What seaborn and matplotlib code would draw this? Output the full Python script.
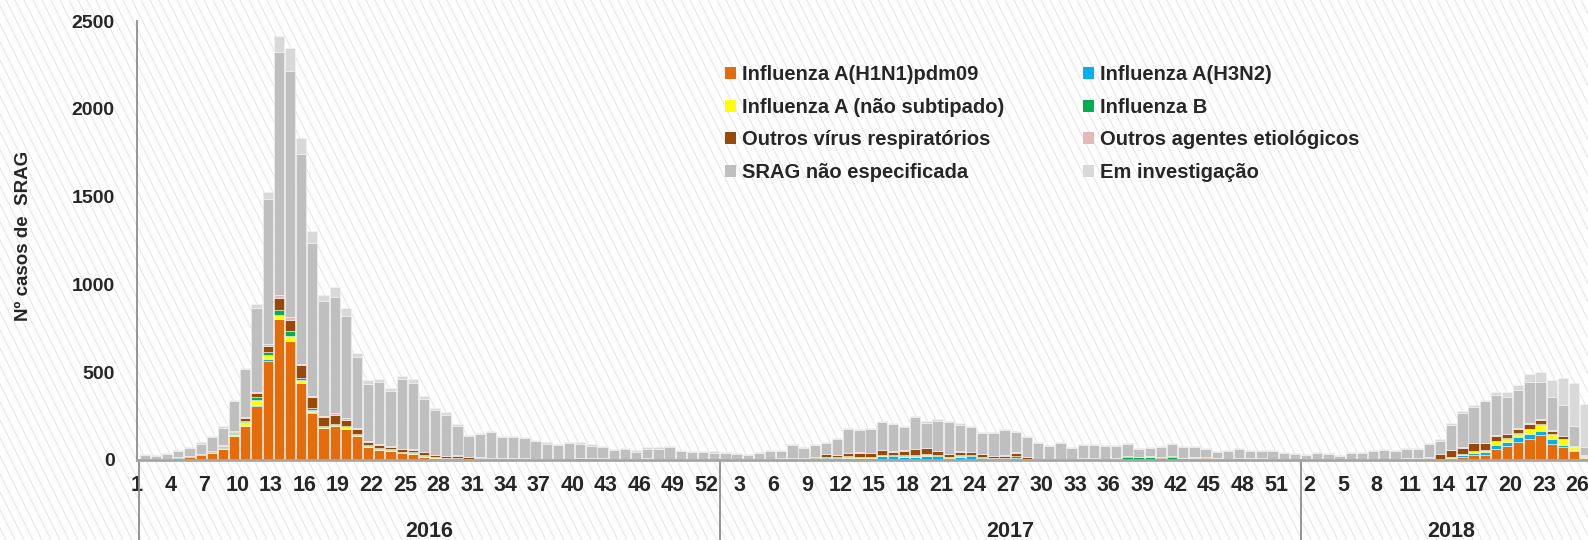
import numpy as np
import pandas as pd
import matplotlib
matplotlib.use('Agg')
import matplotlib.pyplot as plt
from matplotlib.patches import Patch
from matplotlib.collections import LineCollection
import seaborn as sns

# semanas epidemiologicas por ano
anos = ['2016', '2017', '2018']
semanas_2016 = list(range(1, 53))
semanas_2017 = list(range(1, 53))
semanas_2018 = list(range(1, 27))

series = ['Influenza A(H1N1)pdm09', 'Influenza A(H3N2)', 'Influenza A (não subtipado)',
          'Influenza B', 'Outros vírus respiratórios', 'Outros agentes etiológicos',
          'SRAG não especificada', 'Em investigação']
cores = ['#E46C0A', '#00B0F0', '#FFFF00', '#00B050', '#984807', '#E6B9B8', '#BFBFBF', '#D9D9D9']

# 2016
h1n1_2016 = [3, 2, 3, 13, 17, 28, 38, 63, 135, 194, 309, 566, 801, 678, 437, 270, 180, 194, 177, 137,
             76, 59, 53, 40, 35, 19, 13, 6, 4, 2, 3, 2, 2, 1, 1, 1, 0, 0, 0, 0,
             0, 0, 0, 0, 0, 0, 0, 0, 0, 0, 0, 0]
h3n2_2016 = [0, 0, 0, 0, 0, 0, 0, 0, 1, 2, 3, 8, 4, 2, 1, 1, 0, 0, 0, 0,
             0, 0, 0, 0, 0, 0, 0, 0, 0, 0, 0, 0, 0, 0, 0, 0, 0, 0, 0, 0,
             0, 0, 0, 0, 0, 0, 0, 0, 0, 0, 0, 0]
flua_ns_2016 = [0, 0, 0, 0, 0, 2, 5, 8, 11, 19, 28, 25, 19, 27, 15, 11, 6, 4, 9, 4,
                6, 6, 6, 4, 6, 6, 3, 3, 2, 2, 2, 1, 0, 0, 0, 0, 0, 0, 0, 0,
                0, 0, 0, 0, 0, 0, 0, 0, 0, 0, 0, 0]
flub_2016 = [0, 0, 2, 2, 3, 2, 3, 4, 6, 8, 17, 17, 30, 25, 13, 13, 9, 8, 6, 8,
             6, 4, 2, 2, 2, 4, 3, 4, 3, 3, 2, 3, 2, 3, 2, 2, 3, 2, 3, 10,
             10, 7, 3, 3, 3, 6, 5, 5, 3, 3, 2, 2]
outros_virus_2016 = [4, 2, 2, 3, 3, 3, 4, 6, 9, 15, 23, 34, 70, 68, 74, 61, 51, 51, 38, 28,
                     15, 19, 15, 15, 15, 15, 10, 8, 15, 10, 6, 4, 3, 3, 6, 3, 2, 2, 3, 2,
                     2, 2, 3, 3, 3, 2, 2, 2, 2, 2, 2, 2]
outros_agentes_2016 = [0, 0, 0, 0, 0, 0, 2, 3, 4, 5, 9, 13, 13, 13, 8, 8, 6, 8, 8, 4,
                       4, 4, 2, 4, 3, 2, 2, 2, 2, 2, 2, 2, 2, 2, 2, 1, 1, 1, 2, 1,
                       1, 1, 1, 1, 1, 1, 1, 1, 1, 1, 1, 1]
nao_espec_2016 = [20, 20, 30, 35, 45, 57, 77, 100, 169, 274, 478, 821, 1388, 1402, 1195, 870, 654, 665, 582, 407,
                  323, 350, 317, 396, 380, 303, 254, 236, 170, 116, 133, 145, 120, 120, 114, 99, 86, 80, 86, 79,
                  68, 64, 50, 53, 40, 55, 56, 64, 45, 37, 38, 36]
investig_2016 = [5, 4, 5, 6, 6, 8, 8, 8, 8, 9, 23, 40, 91, 131, 93, 70, 34, 53, 46, 23,
                 27, 19, 15, 19, 20, 13, 13, 12, 9, 7, 8, 8, 8, 8, 8, 8, 8, 8, 8, 8,
                 8, 8, 8, 8, 8, 8, 8, 8, 8, 8, 8, 8]

# 2017
h1n1_2017 = [0] * 52
h3n2_2017 = [0, 0, 0, 0, 0, 0, 3, 2, 3, 11, 10, 11, 11, 11, 23, 21, 15, 19, 25, 21,
             13, 19, 21, 11, 8, 8, 9, 4, 2, 1, 0, 0, 0, 0, 0, 0, 0, 0, 0, 0,
             0, 0, 0, 0, 0, 0, 0, 0, 0, 0, 0, 0]
flua_ns_2017 = [0, 0, 0, 0, 4, 6, 4, 3, 4, 3, 4, 8, 6, 4, 3, 3, 9, 3, 9, 3,
                3, 2, 3, 2, 2, 1, 2, 1, 0, 0, 0, 0, 0, 0, 0, 0, 0, 0, 0, 0,
                2, 2, 8, 11, 3, 2, 2, 8, 1, 0, 0, 0]
flub_2017 = [1, 1, 1, 1, 1, 1, 1, 1, 2, 3, 3, 2, 2, 3, 3, 3, 2, 8, 2, 2,
             3, 8, 3, 3, 2, 2, 9, 2, 2, 2, 2, 2, 4, 8, 5, 6, 15, 15, 17, 13,
             15, 8, 4, 3, 3, 3, 8, 3, 6, 2, 1, 1]
outros_virus_2017 = [2, 2, 1, 1, 1, 1, 3, 6, 8, 15, 13, 17, 23, 23, 28, 21, 28, 32, 30, 27,
                     15, 19, 19, 19, 11, 11, 21, 8, 2, 3, 2, 2, 6, 2, 2, 2, 8, 2, 2, 2,
                     6, 2, 2, 2, 2, 2, 2, 2, 2, 2, 2, 2]
outros_agentes_2017 = [1, 1, 1, 1, 1, 1, 1, 1, 1, 1, 1, 4, 1, 1, 1, 1, 1, 1, 1, 1,
                       1, 1, 2, 1, 1, 6, 2, 1, 1, 1, 1, 1, 1, 1, 1, 1, 2, 1, 1, 2,
                       2, 1, 1, 1, 1, 1, 1, 1, 1, 2, 1, 1]
nao_espec_2017 = [34, 30, 27, 35, 42, 40, 73, 55, 65, 63, 86, 132, 128, 134, 156, 154, 131, 180, 145, 170,
                  181, 152, 140, 116, 128, 141, 114, 116, 87, 72, 89, 65, 72, 72, 69, 68, 64, 46, 46, 57,
                  64, 61, 61, 45, 37, 41, 47, 35, 43, 47, 34, 28]
investig_2017 = [6, 6, 6, 6, 6, 6, 6, 6, 6, 6, 6, 6, 6, 6, 8, 8, 8, 8, 8, 8,
                 8, 8, 8, 6, 6, 6, 6, 6, 6, 6, 6, 6, 6, 6, 6, 6, 6, 6, 6, 6,
                 6, 6, 6, 6, 6, 6, 6, 6, 6, 6, 6, 6]

# 2018
h1n1_2018 = [0, 0, 0, 0, 0, 0, 0, 0, 0, 0, 0, 0, 2, 8, 19, 27, 30, 61, 80, 103,
             122, 144, 91, 72, 49, 11]
h3n2_2018 = [0, 0, 0, 0, 0, 0, 0, 0, 0, 0, 0, 0, 1, 3, 9, 13, 15, 27, 23, 27,
             27, 23, 30, 15, 8, 2]
flua_ns_2018 = [1, 0, 0, 0, 0, 0, 0, 0, 0, 0, 0, 1, 2, 4, 6, 11, 11, 19, 19, 19,
                27, 34, 27, 30, 15, 8]
flub_2018 = [2, 1, 1, 1, 2, 1, 1, 1, 1, 2, 1, 2, 2, 2, 2, 2, 2, 2, 2, 2,
             2, 2, 2, 2, 2, 2]
outros_virus_2018 = [1, 1, 1, 1, 1, 1, 1, 1, 2, 6, 6, 11, 27, 38, 34, 42, 38, 30, 23, 27,
                     27, 25, 17, 15, 2, 2]
outros_agentes_2018 = [1, 1, 1, 1, 1, 1, 1, 1, 2, 2, 2, 2, 2, 3, 3, 3, 3, 3, 3, 3,
                       3, 3, 2, 2, 2, 1]
nao_espec_2018 = [22, 37, 29, 19, 34, 35, 46, 55, 46, 50, 51, 75, 74, 141, 196, 205, 237, 228, 210, 218,
                  237, 213, 191, 177, 115, 50]
investig_2018 = [5, 6, 6, 5, 6, 6, 6, 6, 6, 6, 6, 6, 8, 10, 8, 8, 8, 15, 27, 30,
                 47, 59, 95, 154, 245, 243]

valores = {
    series[0]: h1n1_2016 + h1n1_2017 + h1n1_2018,
    series[1]: h3n2_2016 + h3n2_2017 + h3n2_2018,
    series[2]: flua_ns_2016 + flua_ns_2017 + flua_ns_2018,
    series[3]: flub_2016 + flub_2017 + flub_2018,
    series[4]: outros_virus_2016 + outros_virus_2017 + outros_virus_2018,
    series[5]: outros_agentes_2016 + outros_agentes_2017 + outros_agentes_2018,
    series[6]: nao_espec_2016 + nao_espec_2017 + nao_espec_2018,
    series[7]: investig_2016 + investig_2017 + investig_2018,
}
semanas = semanas_2016 + semanas_2017 + semanas_2018
n_sem = [len(semanas_2016), len(semanas_2017), len(semanas_2018)]
n_slots_2018 = 27  # a categoria 2018 continua alem da borda da figura

linhas = []
for s in series:
    for i, v in enumerate(valores[s]):
        linhas.append({'pos': i, 'serie': s, 'casos': v})
df = pd.DataFrame(linhas)

sns.set_style('white')
plt.rcParams['font.family'] = ['Liberation Sans', 'DejaVu Sans']

fig = plt.figure(figsize=(15.88, 5.40), dpi=100)
fig.patch.set_facecolor('white')

# fundo com listras diagonais finas
fundo = fig.add_axes([0, 0, 1, 1], zorder=-10)
fundo.set_xlim(0, 1588)
fundo.set_ylim(0, 540)
fundo.axis('off')
segs = [[(x0, 540), (x0 + 270, 0)] for x0 in np.arange(-300, 1600, 9)]
fundo.add_collection(LineCollection(segs, colors='#e9e9e9', linewidths=0.9))

ax = fig.add_axes([137 / 1588, 80 / 540, 1465 / 1588, 439 / 540])
ax.set_facecolor('none')

paleta = dict(zip(series, cores))
sns.histplot(data=df, x='pos', weights='casos', hue='serie', hue_order=series[::-1],
             multiple='stack', discrete=True, shrink=0.92, palette=paleta, alpha=1,
             edgecolor='#f3f3f3', linewidth=0.4, legend=False, ax=ax)

total_slots = n_sem[0] + n_sem[1] + n_slots_2018
ax.set_xlim(-0.5, total_slots - 0.5)
ax.set_ylim(0, 2500)
ax.set_yticks(np.arange(0, 2501, 500))
ax.set_yticklabels([str(v) for v in range(0, 2501, 500)], fontsize=14, fontweight='bold')

pos_ticks = np.arange(0, len(semanas), 3)
ax.set_xticks(pos_ticks - 0.7)
ax.set_xticklabels([str(semanas[p]) for p in pos_ticks], fontsize=15.5, fontweight='bold')
ax.tick_params(axis='both', length=0)
ax.tick_params(axis='y', pad=16)
ax.tick_params(axis='x', pad=11)

ax.set_xlabel('')
ax.set_ylabel('Nº casos de  SRAG', fontsize=13.5, fontweight='bold')
ax.yaxis.set_label_coords(-0.0715, 0.51)

for lado in ['top', 'right']:
    ax.spines[lado].set_visible(False)
ax.spines['left'].set_color('#8c8c8c')
ax.spines['left'].set_linewidth(1.3)
ax.spines['bottom'].set_color('#a6a6a6')
ax.spines['bottom'].set_linewidth(2)

# eixo de categorias em dois niveis (ano)
trans = ax.get_xaxis_transform()
inicio = -0.5
for ano, n in zip(anos, [n_sem[0], n_sem[1], n_slots_2018]):
    ax.plot([inicio, inicio], [0, -0.2], transform=trans, color='#8c8c8c', lw=1.3, clip_on=False)
    ax.text(inicio + n / 2, -0.162, ano, transform=trans, ha='center', va='center',
            fontsize=15.5, fontweight='bold')
    inicio += n

ordem = [0, 2, 4, 6, 1, 3, 5, 7]
handles = [Patch(facecolor=cores[k], edgecolor='none') for k in ordem]
rotulos = [series[k] for k in ordem]
ax.legend(handles, rotulos, ncol=2, loc='upper left', bbox_to_anchor=(725 / 1588, 1 - 65 / 540),
          bbox_transform=fig.transFigure, frameon=False, borderpad=0, borderaxespad=0,
          handlelength=0.55, handleheight=0.55, handletextpad=0.3, columnspacing=3.9,
          labelspacing=0.68, prop={'weight': 'bold', 'size': 14.5})

fig.savefig('out.png', dpi=100)
